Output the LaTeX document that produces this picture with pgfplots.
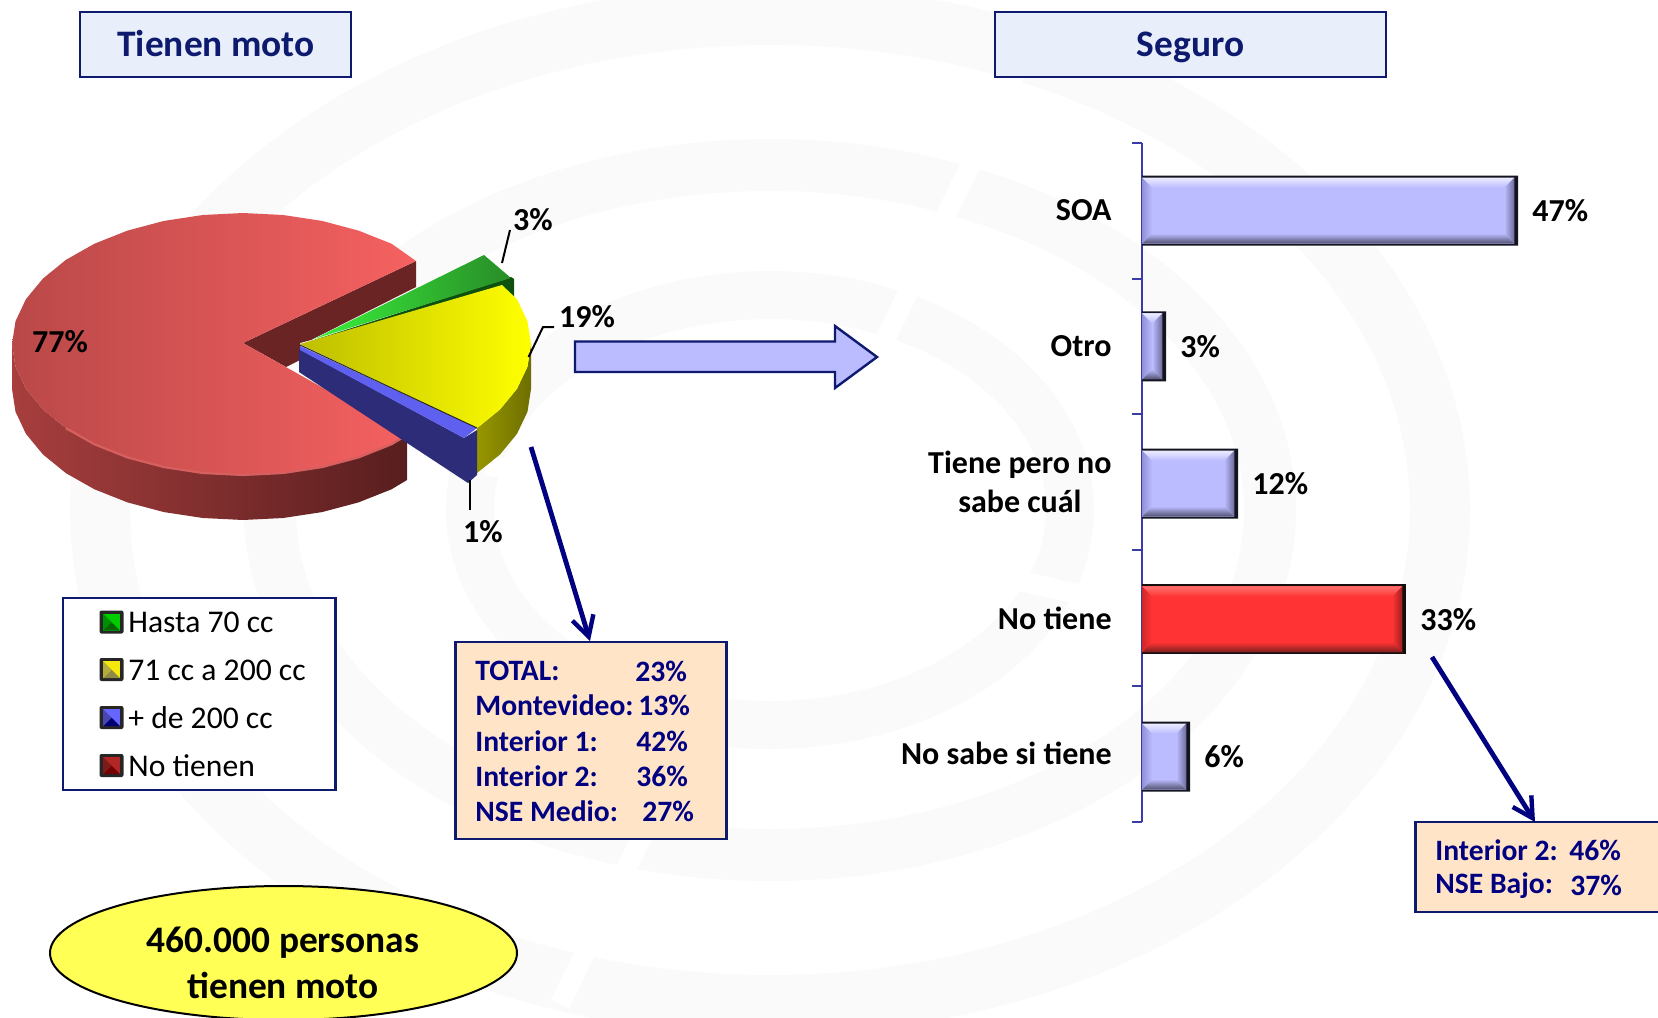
\documentclass[border=0pt]{standalone}
\usepackage{fontspec}
\setmainfont{Carlito}
\usepackage{pgfplots}
\pgfplotsset{compat=1.18}
\usetikzlibrary{arrows.meta}
\definecolor{nav}{HTML}{000080}
\definecolor{boxb}{HTML}{0D1A6E}
\definecolor{ttl}{HTML}{E8EFFB}
\definecolor{peach}{HTML}{FFE4C8}
\definecolor{wm}{HTML}{FAFAFA}
\definecolor{axb}{HTML}{3A3AA8}
\definecolor{bluebase}{HTML}{BBBBFF}
\definecolor{bluehi}{HTML}{ECECFF}
\definecolor{bluelo}{HTML}{50506E}
\definecolor{bluert}{HTML}{6A6A9A}
\definecolor{bluelf}{HTML}{9090D8}
\definecolor{redbase}{HTML}{FF3333}
\definecolor{redhi}{HTML}{FF7070}
\definecolor{redlo}{HTML}{7A2020}
\definecolor{redrt}{HTML}{9A1F1F}
\definecolor{redlf}{HTML}{D02828}
\newcommand\bev[7]{%
 \addplot[draw=none,fill=#7base,forget plot] coordinates {(0,#1)(#5,#1)(#5,#4)(0,#4)} -- cycle;
 \addplot[draw=none,top color=#7hi,bottom color=#7base,forget plot] coordinates {(0,#1)(#5,#1)(#6,#2)(1.25,#2)} -- cycle;
 \addplot[draw=none,top color=#7base,bottom color=#7lo,forget plot] coordinates {(0,#4)(#5,#4)(#6,#3)(1.25,#3)} -- cycle;
 \addplot[draw=none,left color=#7base,right color=#7rt,forget plot] coordinates {(#5,#1)(#5,#4)(#6,#3)(#6,#2)} -- cycle;
 \addplot[draw=none,left color=#7lf,right color=#7base,forget plot] coordinates {(0,#1)(0,#4)(1.25,#3)(1.25,#2)} -- cycle;
}
\newcommand\swatch[7]{% outer top, inner top, mid, inner bottom, outer bottom, light, dark
 \fill[black!85,rounded corners=1pt] (axis cs:99.5,#1) rectangle (axis cs:123.5,#5);
 \fill[#6] (axis cs:103,#2) -- (axis cs:120,#2) -- (axis cs:120,#4) -- (axis cs:103,#4) -- cycle;
 \fill[#7] (axis cs:103,#4) -- (axis cs:120,#4) -- (axis cs:111.5,#3) -- cycle;
 \fill[#6!70!black] (axis cs:103,#2) -- (axis cs:103,#4) -- (axis cs:111.5,#3) -- cycle;
}
\newcommand\lab[4][center]{\node[anchor=#1,inner sep=0pt,font=#4] at (axis cs:#2) {#3};}
\def\fT{\bfseries\fontsize{18.7}{22}\selectfont}
\def\fL{\bfseries\fontsize{16}{19}\selectfont}
\def\fB{\bfseries\fontsize{14.8}{18}\selectfont}
\def\fR{\fontsize{15.8}{19}\selectfont}
\begin{document}
\begin{tikzpicture}
\path[use as bounding box,clip] (0,0) rectangle (829pt,508.5pt);
\begin{axis}[at={(0,0)},anchor=south west,width=829pt,height=508.5pt,scale only axis,
  xmin=0,xmax=1658,ymin=0,ymax=1017,y dir=reverse,hide axis,clip=true,no markers]
% watermark
\draw[wm,line width=24pt] (axis cs:770,510) ellipse [x radius=300,y radius=215];
\draw[wm,line width=26pt] (axis cs:770,510) ellipse [x radius=500,y radius=345];
\draw[wm,line width=30pt] (axis cs:770,510) ellipse [x radius=670,y radius=495];
\draw[white,line width=10pt] (axis cs:486,465) -- (axis cs:1120,603);
\draw[white,line width=10pt] (axis cs:560,1004) -- (axis cs:1015,74);
% red side
\addplot[draw=none,forget plot,
   left color={rgb,255:red,168;green,62;blue,62},right color={rgb,255:red,88;green,30;blue,30}] coordinates {
 (12,344)(15.5,366.7)(25.9,388.8)(43,409.5)(66,428.2)(94.5,444.3)(127.5,457.4)(164,467.1)(202.9,473)(243,475)(283.1,473)(322,467.1)(358.5,457.4)(391.5,444.3)(407,435)
 (407,480)(391.5,489.3)(358.5,502.4)(322,512.1)(283.1,518)(243,520)(202.9,518)(164,512.1)(127.5,502.4)(94.5,489.3)(66,473.2)(43,454.5)(25.9,433.8)(15.5,411.7)(12,389)} -- cycle;
% red inner wall
\addplot[draw=none,fill={rgb,255:red,106;green,36;blue,36},forget plot] coordinates {(243,343)(416,261)(416,287)(311,340)(300,343)(300,360)(286,367)} -- cycle;
% red top
\addplot[draw=none,left color={rgb,255:red,186;green,72;blue,72},right color={rgb,255:red,246;green,97;blue,97},forget plot] coordinates {
 (243,343)(416,261)(391.5,243.7)(358.5,230.6)(322,220.9)(283.1,215)(243,213)(202.9,215)(164,220.9)(127.5,230.6)(94.5,243.7)(66,259.8)(43,278.5)(25.9,299.2)(15.5,321.3)(12,344)
 (15.5,366.7)(25.9,388.8)(43,409.5)(66,428.2)(94.5,444.3)(127.5,457.4)(164,467.1)(202.9,473)(243,475)(283.1,473)(322,467.1)(358.5,457.4)(391.5,444.3)(407,435)} -- cycle;
\addplot[draw={rgb,255:red,214;green,96;blue,96},line width=1.1pt,forget plot] coordinates {(66,428.2)(94.5,444.3)(127.5,457.4)(164,467.1)(202.9,473)(243,475)(283.1,473)(322,467.1)(358.5,457.4)(391.5,444.3)(407,435)};
% green
\addplot[draw=none,fill={rgb,255:red,14;green,80;blue,14},forget plot] coordinates {(311,341)(511,277)(514,279)(514,300)(505,290)} -- cycle;
\addplot[draw=none,left color={rgb,255:red,58;green,240;blue,58},right color={rgb,255:red,40;green,140;blue,40},forget plot] coordinates {(314,339)(484,255)(511,278)} -- cycle;
% yellow
\addplot[draw=none,left color={rgb,255:red,150;green,150;blue,0},right color={rgb,255:red,110;green,110;blue,0},forget plot] coordinates {(531,344)(527.5,366.7)(517,388.8)(500,409.5)(477,428.2)(477,473)(500,454.5)(517,433.8)(527.5,411.7)(531,389)} -- cycle;
\addplot[draw=none,left color={rgb,255:red,190;green,190;blue,0},right color=yellow,forget plot] coordinates {(300,344)(502,285)(517,299.2)(527.5,321.3)(531,344)(527.5,366.7)(517,388.8)(500,409.5)(477,428.2)} -- cycle;
% blue
\addplot[draw=none,fill={rgb,255:red,44;green,44;blue,120},forget plot] coordinates {(299,349)(464,438)(477,430)(477,475)(468,483)(299,372)} -- cycle;
\addplot[draw=none,fill={rgb,255:red,96;green,96;blue,240},forget plot] coordinates {(300,346)(477,428)(464,438)(300,350)} -- cycle;
\addplot[draw={rgb,255:red,40;green,40;blue,30},line width=0.5pt,forget plot] coordinates {(300,345)(477,428)};
% leaders and pie labels
\draw[black,line width=1pt] (axis cs:510,230) -- (axis cs:502,263);
\draw[black,line width=1pt] (axis cs:554,327) -- (axis cs:543,327) -- (axis cs:528.6,357);
\draw[black,line width=1pt] (axis cs:470,480) -- (axis cs:470,510);
\lab{533,220}{3\%}{\fL}
\lab{587,317}{19\%}{\fL}
\lab{60,342}{77\%}{\fL}
\lab{483,532}{1\%}{\fL}
% title boxes
\draw[boxb,fill=ttl,line width=1.3pt] (axis cs:80,12) rectangle (axis cs:351,77);
\draw[boxb,fill=ttl,line width=1.3pt] (axis cs:995,12) rectangle (axis cs:1386,77);
\node[text=boxb,font=\fT,inner sep=0pt,anchor=base] at (axis cs:216,56) {Tienen moto};
\node[text=boxb,font=\fT,inner sep=0pt,anchor=base] at (axis cs:1190.5,56) {Seguro};
% legend
\draw[boxb,fill=white,line width=1.3pt] (axis cs:63,598) rectangle (axis cs:335.5,790);
\swatch{610.5}{613.5}{622}{630.5}{633.5}{green!80!black}{green!40!black}
\swatch{658}{661}{669.5}{678}{681}{yellow!95!black}{yellow!50!black}
\swatch{706}{709}{717.5}{726}{729}{blue!60!white}{blue!45!black}
\swatch{754}{757}{765.5}{774}{777}{red!65!black!85!white}{red!45!black}
\lab[west]{128,622.5}{Hasta 70 cc}{\fR}
\lab[west]{128,670}{71 cc a 200 cc}{\fR}
\lab[west]{128,718}{+ de 200 cc}{\fR}
\lab[west]{128,766}{No tienen}{\fR}
% big arrow
\draw[boxb,fill=bluebase,line width=1.2pt] (axis cs:575,341.5) -- (axis cs:835,341.5) -- (axis cs:835,326) -- (axis cs:877,357) -- (axis cs:835,388) -- (axis cs:835,372) -- (axis cs:575,372) -- cycle;
% info box left
\draw[boxb,fill=peach,line width=1.2pt] (axis cs:455.6,642) rectangle (axis cs:726.6,839);
\draw[nav,line width=2.4pt,-{Straight Barb[length=10pt,width=11pt,line width=2.2pt]}] (axis cs:531,447) -- (axis cs:590,641);
\foreach \t/\v/\x/\y in {TOTAL:/23/635/671,Montevideo:/13/638/705.5,Interior 1:/42/636/741,Interior 2:/36/636/776,NSE Medio:/27/642/811.5}{
 \edef\tmp{\noexpand\node[anchor=west,inner sep=0pt,text=nav,font=\noexpand\fB] at (axis cs:475,\y) {\t};
 \noexpand\node[anchor=west,inner sep=0pt,text=nav,font=\noexpand\fB] at (axis cs:\x,\y) {\v\noexpand\%};}\tmp
}
% info box right
\draw[boxb,fill=peach,line width=1.2pt] (axis cs:1415.6,822) rectangle (axis cs:1680,912);
\draw[nav,line width=2.4pt,-{Straight Barb[length=10pt,width=11pt,line width=2.2pt]}] (axis cs:1432,657) -- (axis cs:1535,822);
\lab[west]{1435,850.5}{\textcolor{nav}{Interior 2:}}{\fB}
\lab[west]{1569,850.5}{\textcolor{nav}{46\%}}{\fB}
\lab[west]{1435,885.5}{\textcolor{nav}{NSE Bajo:}}{\fB}
\lab[west]{1570,885.5}{\textcolor{nav}{37\%}}{\fB}
% ellipse
\draw[black,fill={rgb,255:red,255;green,255;blue,85},line width=1pt] (axis cs:283.5,953) ellipse [x radius=233.5,y radius=67];
\node[font=\fT,inner sep=0pt] at (axis cs:283,943) {460.000 personas};
\node[font=\fT,inner sep=0pt] at (axis cs:283,985) {tienen moto};
\end{axis}
\begin{axis}[at={(571pt,97.65pt)},anchor=south west,width=200pt,height=339.5pt,scale only axis,
  xmin=0,xmax=50,ymin=-0.5,ymax=4.5,y dir=reverse,clip=false,
  axis x line=none,axis y line=left,y axis line style={-,axb,line width=1pt},
  ytick={0,1,2,3,4},
  yticklabels={SOA,Otro,{Tiene pero no\\sabe cuál},No tiene,No sabe si tiene},
  yticklabel style={font=\bfseries\fontsize{16}{19.5}\selectfont,align=center,anchor=east,inner sep=0pt,xshift=-15pt},
  minor ytick={-0.5,0.5,1.5,2.5,3.5,4.5},
  major tick length=0pt,minor tick length=5pt,tick align=outside,
  every minor tick/.style={axb,line width=1pt},
  xbar,bar shift=0pt,bar width=35pt,point meta=x,
  /pgf/number format/assume math mode=true,
  nodes near coords={\pgfmathprintnumber{\pgfplotspointmeta}\%},
  nodes near coords style={font=\fL,anchor=west,inner sep=0pt,xshift=7pt,text=black}]
\addplot[draw=none,fill={rgb,255:red,20;green,20;blue,32}] coordinates {(47,0)(3,1)(12,2.01)(6,4.02)};
\addplot[draw=none,fill={rgb,255:red,20;green,14;blue,14}] coordinates {(33,3.01)};
\end{axis}
\begin{axis}[at={(571pt,97.65pt)},anchor=south west,width=200pt,height=339.5pt,scale only axis,
  xmin=0,xmax=50,ymin=-0.5,ymax=4.5,y dir=reverse,clip=false,hide axis,no markers]
\bev{-0.243}{-0.168}{0.168}{0.243}{46.55}{45.3}{blue}
\bev{0.757}{0.832}{1.168}{1.243}{2.55}{1.3}{blue}
\bev{1.767}{1.842}{2.178}{2.253}{11.55}{10.3}{blue}
\bev{2.767}{2.842}{3.178}{3.253}{32.55}{31.3}{red}
\bev{3.777}{3.852}{4.188}{4.263}{5.55}{4.3}{blue}
\end{axis}
\end{tikzpicture}
\end{document}
